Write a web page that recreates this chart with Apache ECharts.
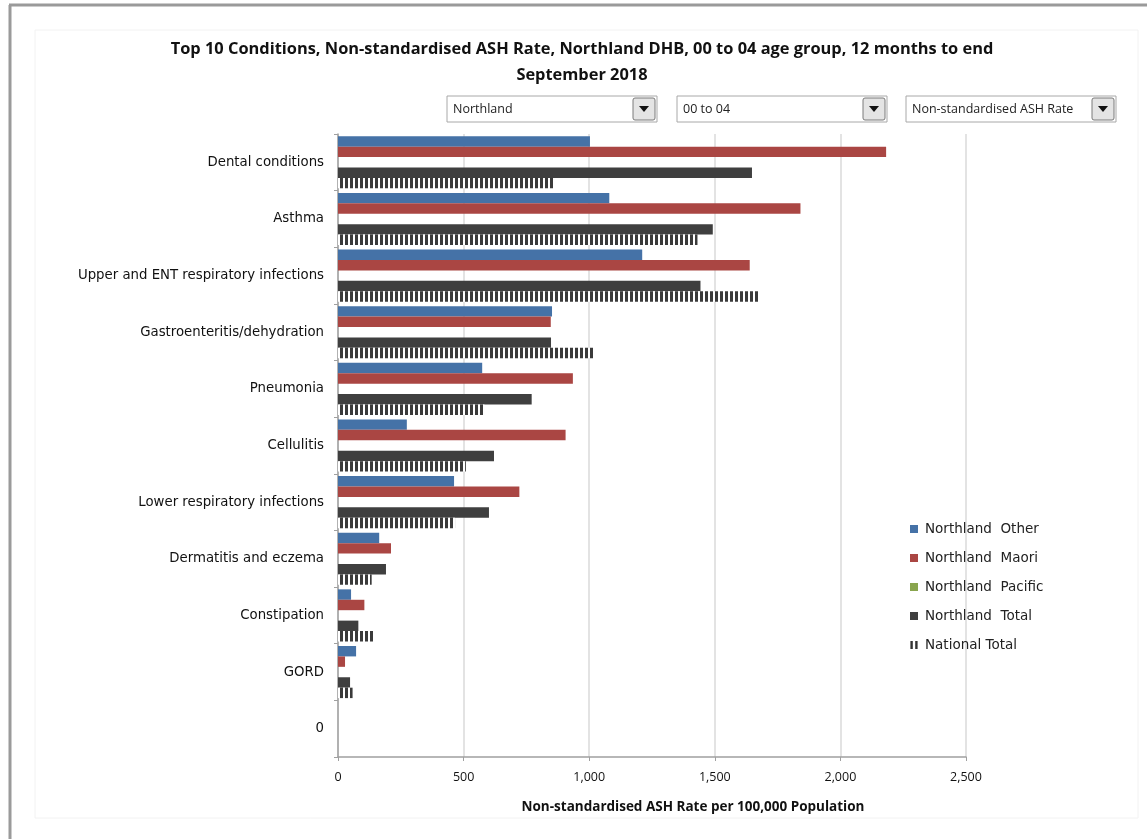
<!DOCTYPE html>
<html>
<head>
<meta charset="utf-8">
<script src="https://cdn.jsdelivr.net/npm/echarts@6/dist/echarts.min.js"></script>
<style>
html,body{margin:0;padding:0;background:#fff;}
#chart{width:1147px;height:839px;}
</style>
</head>
<body>
<div id="chart"></div>
<script>
// ---- data ----
var categories = ['Dental conditions','Asthma','Upper and ENT respiratory infections','Gastroenteritis/dehydration','Pneumonia','Cellulitis','Lower respiratory infections','Dermatitis and eczema','Constipation','GORD','0'];
var northlandOther   = [1003, 1080, 1211, 852, 574, 274, 462, 164, 52, 72, null];
var northlandMaori   = [2182, 1841, 1639, 847, 935, 906, 722, 211, 105, 28, null];
var northlandPacific = [null, null, null, null, null, null, null, null, null, null, null];
var northlandTotal   = [1648, 1492, 1443, 848, 771, 621, 601, 191, 81, 48, null];
var nationalTotal    = [858, 1431, 1676, 1016, 583, 509, 466, 134, 140, 58, null];
var seriesNames = ['Northland  Other','Northland  Maori','Northland  Pacific','Northland  Total','National Total'];
var xTicks = [0, 500, 1000, 1500, 2000, 2500];

// stripe pattern for National Total
var pc = document.createElement('canvas');
pc.width = 5; pc.height = 4;
var pctx = pc.getContext('2d');
pctx.fillStyle = '#ffffff'; pctx.fillRect(0,0,5,4);
pctx.fillStyle = '#3a3a3a'; pctx.fillRect(0,0,3,4);

var chart = echarts.init(document.getElementById('chart'), null, {renderer:'canvas'});

function dropdown(x, label){
  var y = 96, w = 210, h = 26;
  return [
    {type:'rect', shape:{x:x, y:y, width:w, height:h}, style:{fill:'#fff', stroke:'#a8a8a8', lineWidth:1}},
    {type:'text', x:x+6, y:y+h/2, style:{text:label, fill:'#222', font:'12.5px "Open Sans"', verticalAlign:'middle'}},
    {type:'rect', shape:{x:x+w-24, y:y+2, width:22, height:22, r:2}, style:{fill:'#e4e4e4', stroke:'#7a7a7a', lineWidth:1}},
    {type:'polygon', shape:{points:[[x+w-18, y+10],[x+w-8, y+10],[x+w-13, y+16]]}, style:{fill:'#111'}}
  ];
}

var graphics = [
  {type:'rect', shape:{x:0, y:0, width:1147, height:839}, style:{fill:'#fff'}, z:-10},
  {type:'line', shape:{x1:9, y1:5, x2:1147, y2:5}, style:{stroke:'#9a9a9a', lineWidth:3}},
  {type:'line', shape:{x1:10, y1:5, x2:10, y2:839}, style:{stroke:'#9a9a9a', lineWidth:3}},
  {type:'rect', shape:{x:35, y:30, width:1103, height:788}, style:{fill:'none', stroke:'#f2f2f2', lineWidth:1}}
].concat(dropdown(447,'Northland'), dropdown(677,'00 to 04'), dropdown(906,'Non-standardised ASH Rate'));

var colors = ['#4572A7','#AA4643','#89A54E','#3f3f3f',{image:pc, repeat:'repeat'}];
var dataArr = [northlandOther, northlandMaori, northlandPacific, northlandTotal, nationalTotal];

var series = seriesNames.map(function(n,i){
  return {
    name:n, type:'bar', data:dataArr[i],
    barGap:'0%', barCategoryGap:'8%',
    itemStyle:{color:colors[i]},
    emphasis:{disabled:true},
    animation:false
  };
});

var legendIcons = ['rect','rect','rect','rect','path://M0,0h3v10h-3zM6,0h3v10h-3z'];
var legendColors = ['#4572A7','#AA4643','#89A54E','#3f3f3f','#333'];

chart.setOption({
  animation:false,
  backgroundColor:'#fff',
  title:{
    text:'Top 10 Conditions, Non-standardised ASH Rate, Northland DHB, 00 to 04 age group, 12 months to end\nSeptember 2018',
    left:577, top:31, textAlign:'center',
    textStyle:{fontFamily:'Open Sans', fontWeight:'bold', fontSize:16.4, color:'#111', lineHeight:26}
  },
  graphic:graphics,
  legend:{
    orient:'vertical', left:905, top:517, itemGap:15, itemWidth:8, itemHeight:8,
    textStyle:{fontFamily:'DejaVu Sans', fontSize:13.5, color:'#222', padding:[0,0,0,2]},
    data:seriesNames.map(function(n,i){return {name:n, icon:legendIcons[i], itemStyle:{color:legendColors[i]}};}),
    selectedMode:false
  },
  grid:{left:338, top:134, right:181, bottom:82, containLabel:false},
  xAxis:{
    type:'value', min:xTicks[0], max:xTicks[xTicks.length-1], interval:500,
    name:'Non-standardised ASH Rate per 100,000 Population', nameLocation:'middle', nameGap:43,
    nameTextStyle:{fontFamily:'Open Sans', fontWeight:'bold', fontSize:13.5, color:'#111', padding:[0,0,0,82]},
    axisLine:{show:true, lineStyle:{color:'#a0a0a0', width:1.5}},
    axisTick:{show:true, length:4, lineStyle:{color:'#a0a0a0'}},
    axisLabel:{fontFamily:'Open Sans', fontSize:12.5, color:'#111', margin:14,
      formatter:function(v){return v.toLocaleString('en-US');}},
    splitLine:{show:true, lineStyle:{color:'#dadada', width:1.5}}
  },
  yAxis:{
    type:'category', data:categories, inverse:true,
    axisLine:{show:true, lineStyle:{color:'#a0a0a0', width:1.5}},
    axisTick:{show:true, length:4, lineStyle:{color:'#a0a0a0'}},
    axisLabel:{fontFamily:'DejaVu Sans', fontSize:13.3, color:'#111', margin:14}
  },
  series:series
});
</script>
</body>
</html>
